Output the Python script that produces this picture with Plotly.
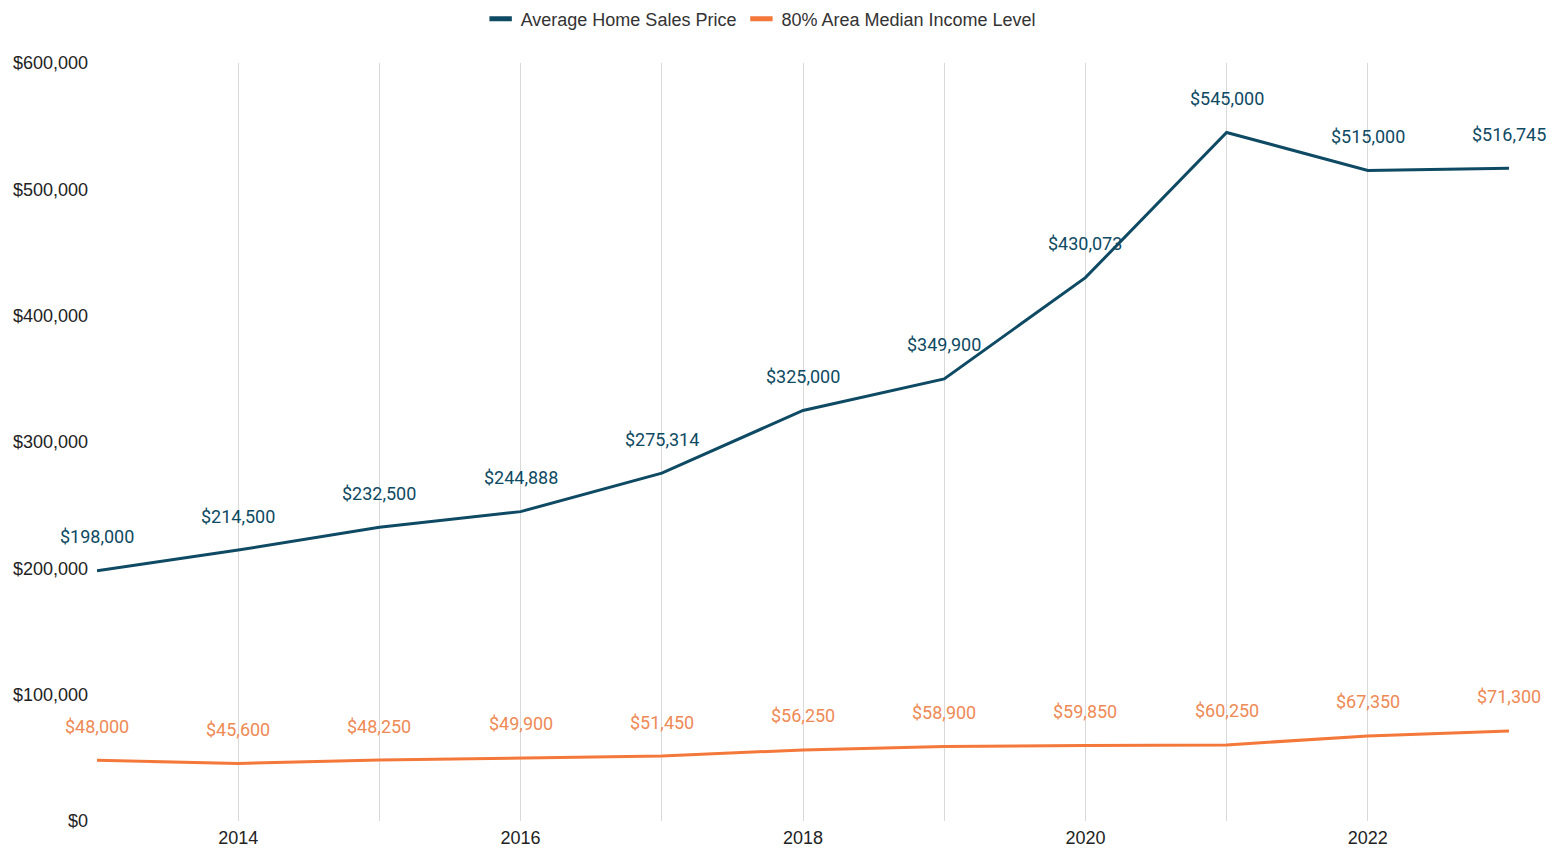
import plotly.graph_objects as go

years = [2013, 2014, 2015, 2016, 2017, 2018, 2019, 2020, 2021, 2022, 2023]
home_price = [198000, 214500, 232500, 244888, 275314, 325000, 349900, 430073, 545000, 515000, 516745]
ami_80 = [48000, 45600, 48250, 49900, 51450, 56250, 58900, 59850, 60250, 67350, 71300]
x_ticks = [2014, 2016, 2018, 2020, 2022]
y_ticks = [0, 100000, 200000, 300000, 400000, 500000, 600000]

BLUE = "#0e4a63"
ORANGE = "#f4783a"
ORANGE_TXT = "#ee8a55"

series = [("Average Home Sales Price", home_price, BLUE, BLUE),
          ("80% Area Median Income Level", ami_80, ORANGE, ORANGE_TXT)]

fig = go.Figure()
annotations = []
for name, vals, col, tcol in series:
    fig.add_trace(go.Scatter(x=years, y=vals, mode="lines", name=name, legendgroup=name,
                             showlegend=False, line=dict(color=col, width=3)))
    # legend entry with a short thick dash symbol
    fig.add_trace(go.Scatter(x=[None], y=[None], mode="markers", name=name, legendgroup=name,
                             marker=dict(symbol="line-ew-open", size=16, color=col,
                                         line=dict(color=col, width=5))))
    for x, y in zip(years, vals):
        annotations.append(dict(x=x, y=y, text=f"${y:,}", showarrow=False, yshift=34,
                                font=dict(family="Roboto", size=18, color=tcol)))

fig.update_layout(
    width=1558, height=842,
    margin=dict(l=89, r=57, t=55, b=29, autoexpand=False),
    paper_bgcolor="white", plot_bgcolor="white",
    font=dict(family="Liberation Sans, Arial", size=18, color="#222222"),
    legend=dict(orientation="h", x=0.47, xanchor="center", y=1.058, yanchor="middle",
                font=dict(size=18, color="#333333"), itemwidth=30,
                tracegroupgap=0),
    annotations=annotations,
    showlegend=True,
)
fig.update_xaxes(range=[2013, 2023], tickvals=x_ticks, ticktext=[str(v) for v in x_ticks],
                 showgrid=True, gridcolor="#d9d9d9", gridwidth=1,
                 minor=dict(dtick=1, tick0=2013, showgrid=True, gridcolor="#d9d9d9", gridwidth=1),
                 zeroline=False, showline=False, ticks="", ticklabelstandoff=4,
                 automargin=False, tickfont=dict(size=18, color="#222222"))
fig.update_yaxes(range=[0, 600000], tickvals=y_ticks,
                 ticktext=[f"${v:,}" for v in y_ticks],
                 showgrid=False, zeroline=False, showline=False, ticks="",
                 ticklabelstandoff=8, automargin=False,
                 tickfont=dict(size=18, color="#222222"))

fig.write_html("out.html")
